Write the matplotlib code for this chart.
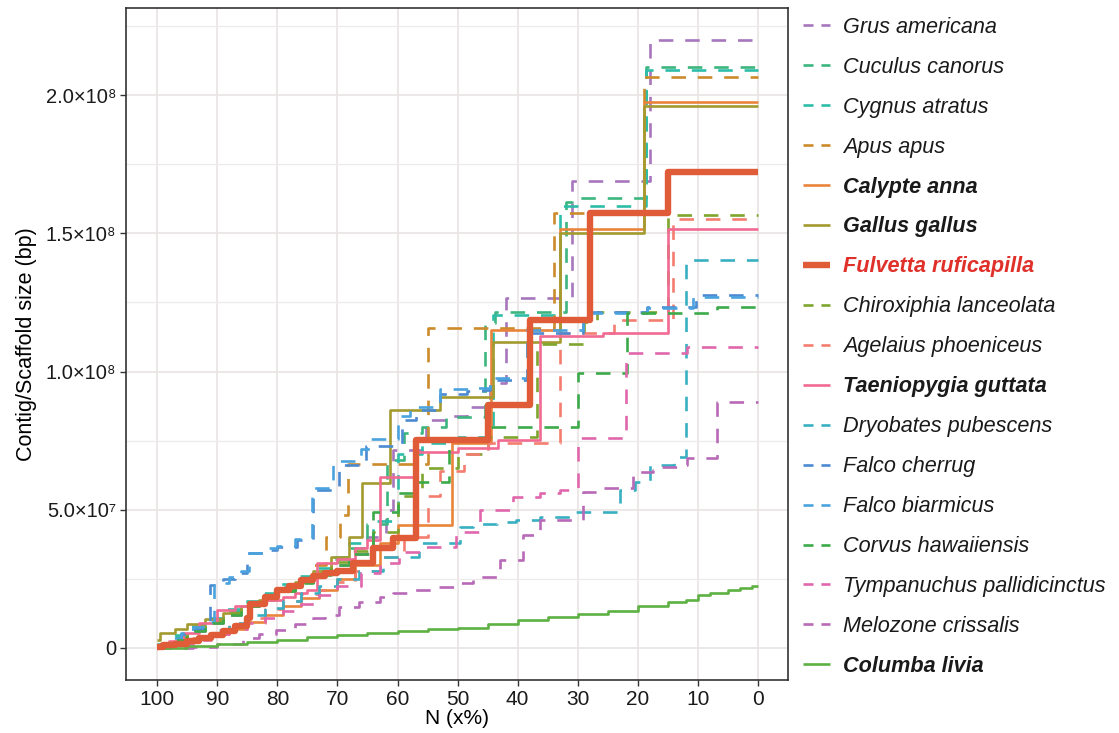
import matplotlib
matplotlib.use("Agg")
import matplotlib.pyplot as plt
from matplotlib.lines import Line2D
import numpy as np

plt.rcParams['font.family'] = ['Liberation Sans', 'DejaVu Sans']

# ---------------- data (N in %, size in Mb) ----------------
species = ["Grus americana", "Cuculus canorus", "Cygnus atratus", "Apus apus",
           "Calypte anna", "Gallus gallus", "Fulvetta ruficapilla",
           "Chiroxiphia lanceolata", "Agelaius phoeniceus", "Taeniopygia guttata",
           "Dryobates pubescens", "Falco cherrug", "Falco biarmicus",
           "Corvus hawaiiensis", "Tympanuchus pallidicinctus", "Melozone crissalis",
           "Columba livia"]

grus_n = [100, 98, 95, 92, 89, 86, 83, 80, 77, 74, 71, 68, 65, 62, 60.7, 55.2, 51.8, 48.4, 44.6, 42, 31, 18, 0]
grus_v = [0.5, 3, 6, 9, 12, 15, 18, 21, 24, 27, 30, 34, 40, 50, 71.6, 82.5, 84, 87, 96, 126.6, 169, 220, 220]

cuculus_n = [100, 98, 95, 92, 89, 86, 83, 80, 77, 74, 71, 68, 65, 61.7, 59, 56, 52, 45.5, 43.8, 32, 31, 18.7, 0]
cuculus_v = [1, 4, 7.5, 10.5, 13.5, 16.5, 19.5, 22, 25, 28, 32, 36, 45, 68, 77.7, 80, 83.5, 117.5, 121.5, 161.4, 162.7, 210, 210]

cygnus_n = [100, 98, 95, 92, 89, 86, 83, 80, 77, 74, 71, 68, 64, 60, 56, 50, 44.1, 33, 18.7, 0]
cygnus_v = [1.5, 4.5, 8, 11, 14, 17, 20, 23, 26, 29, 33, 38, 46, 70, 74, 76.3, 120.5, 160, 209, 209]

apus_n = [100, 98, 95, 92, 89, 86, 83, 80, 77, 74, 71.9, 69.5, 68.2, 55, 34, 19, 0]
apus_v = [1, 3.5, 6.5, 9.5, 12.5, 15.5, 18.5, 21.5, 25, 30, 40, 48, 66.5, 115.7, 157.3, 206.5, 206.5]

calypte_n = [100, 97, 94, 91, 88, 85, 82, 79, 76, 73, 70, 67, 63, 60, 51, 44.5, 33, 19, 0]
calypte_v = [0.5, 2, 3.5, 5, 7, 9.5, 12, 15, 18, 21, 25, 30, 38, 44.5, 74.1, 115, 151.5, 197.6, 197.6]

gallus_n = [100, 99.5, 97, 95, 92, 89, 86, 83, 80, 77, 74, 71, 68, 65.9, 61.2, 53, 44.1, 33, 19, 0]
gallus_v = [3, 5.5, 7, 8.5, 10.5, 12.5, 15, 17.5, 20.5, 24, 28, 33, 40, 59.7, 86, 90.8, 110.7, 150, 196, 196]

fulvetta_n = [100, 99, 97, 95, 93, 91, 89, 87, 85, 84.5, 82, 80, 78, 76, 74, 72, 70, 67.4, 64, 60.7, 56.9, 45, 37.9, 28, 15, 0]
fulvetta_v = [0.5, 1, 1.5, 2.5, 3.5, 4.5, 6, 8, 11, 16, 18.5, 21, 22.5, 24.5, 26, 27, 28, 30.7, 36, 39.8, 75.2, 87.9, 118.6, 157.3, 172, 172]

chirox_n = [100, 98, 95, 92, 89, 86, 83, 80, 77, 74, 71, 68, 64, 60, 56, 50, 45, 36.8, 29, 26.8, 15, 0]
chirox_v = [1, 3.5, 6.5, 9.5, 12.5, 15.5, 18, 21, 24, 27, 31, 35, 42, 55, 65, 70, 76.3, 110, 118, 121.5, 156.6, 156.6]

agelaius_n = [100, 97, 94, 91, 88, 85, 82, 79, 76, 73, 70, 67, 63, 59, 55, 53, 49, 45, 33, 24, 14.2, 0]
agelaius_v = [0.5, 2, 4, 6, 8.5, 11, 14, 17, 19.5, 21, 24, 28, 33, 40, 55, 64, 70, 74, 114, 118.5, 155.3, 155.3]

taenio_n = [100, 98, 95.7, 93, 90, 87, 84.5, 82, 79, 77, 75, 73.4, 70, 67, 65, 63, 57, 50, 43.3, 36.3, 25.8, 15, 0]
taenio_v = [0.5, 2.5, 5.4, 9, 13.7, 15, 16.3, 17.5, 18.5, 20, 21, 30.7, 32, 36, 39, 61.8, 71, 72.3, 75.2, 113, 114, 151.5, 151.5]

dryob_n = [100, 97, 94, 91, 88, 85, 82, 79, 76, 73, 70, 66.4, 62.4, 56.4, 49.6, 47.4, 43.5, 40.2, 36.3, 31.3, 23, 20.5, 18, 14, 11.9, 0]
dryob_v = [0.5, 2, 4, 6.5, 9, 12, 14.5, 17, 20, 22.5, 25, 28, 33, 38, 43.9, 45, 45.7, 46.3, 47.5, 49.3, 57.1, 60, 66.2, 69.2, 140.3, 140.3]

cherrug_n = [100, 98, 96, 94, 92, 91.2, 89, 87, 85, 82, 80, 76.7, 74, 69.7, 65.2, 59.2, 57, 52.9, 48.5, 45.7, 44.6, 38.5, 29.1, 18.5, 10.3, 0]
cherrug_v = [0.5, 3, 5, 7, 9, 22.8, 25, 27, 34.3, 35.4, 36.5, 39, 57, 66, 73, 82.5, 86, 92, 93, 93.3, 97, 114, 121.5, 123.3, 127.5, 127.5]

biarm_n = [100, 98, 96, 94, 92, 90.5, 88, 86, 84.8, 82, 80, 77, 74.3, 70.7, 66, 64.5, 60, 58, 53, 48, 44.6, 38.5, 29.1, 18.5, 10.8, 0]
biarm_v = [0.5, 3.5, 5.5, 7.5, 9.5, 23.5, 25.5, 28, 34.5, 36, 37, 39.5, 58, 67.5, 72, 75.5, 84, 87, 93.5, 94, 97.5, 115, 121, 122.8, 127, 127]

corvus_n = [100, 98, 95, 92, 89, 86, 83, 80, 77, 74, 71, 68, 64, 60, 57.4, 51.4, 45, 30, 21.8, 6.8, 0]
corvus_v = [0.5, 3, 6, 9, 12, 15, 18, 20.5, 23.5, 26.5, 30, 34, 49, 56, 60, 76, 80, 99.5, 121, 123.5, 123.5]

tympan_n = [100, 97, 94, 91, 88, 85, 82, 79, 76, 73, 70, 66, 63, 59.7, 55.2, 50.2, 46.3, 40.8, 36.3, 33, 30, 22, 11.8, 0]
tympan_v = [0.3, 1.5, 3, 5, 7, 9, 11, 13.5, 16, 19, 22.5, 27, 30.7, 34.7, 36.5, 42, 50, 54.6, 56, 57, 76, 106.7, 108.9, 108.9]

melozone_n = [100, 94, 90, 85.7, 83, 80.2, 77, 74, 72, 69.7, 66.4, 63, 60.7, 58, 54, 49.6, 47.4, 43, 39.1, 36.3, 29.1, 25.8, 20.8, 17.4, 16.3, 13, 11.8, 6.8, 0]
melozone_v = [0, 0.4, 1.5, 3.6, 5, 6.5, 8.5, 10.8, 12, 14.8, 16.6, 18.5, 20, 21, 22, 23.5, 25.7, 31.8, 40.8, 46.3, 56.4, 57.8, 63.7, 64.4, 65.5, 66, 68.7, 89, 89]

columba_n = [100, 95, 90, 85, 80, 75, 70, 65, 60, 55, 50, 45, 40, 35, 30, 25, 20, 15, 12, 10, 8, 5, 3, 1, 0]
columba_v = [0, 0.7, 1.5, 2.2, 3, 3.9, 4.7, 5.4, 6, 6.7, 7.3, 8.5, 10, 11.2, 12.4, 13.5, 15, 16.5, 17.5, 19, 20, 21, 21.8, 22.4, 22.4]

series_n = [grus_n, cuculus_n, cygnus_n, apus_n, calypte_n, gallus_n, fulvetta_n, chirox_n,
            agelaius_n, taenio_n, dryob_n, cherrug_n, biarm_n, corvus_n, tympan_n, melozone_n, columba_n]
series_v = [grus_v, cuculus_v, cygnus_v, apus_v, calypte_v, gallus_v, fulvetta_v, chirox_v,
            agelaius_v, taenio_v, dryob_v, cherrug_v, biarm_v, corvus_v, tympan_v, melozone_v, columba_v]

x_ticks = [100, 90, 80, 70, 60, 50, 40, 30, 20, 10, 0]
y_ticks = [0, 5e7, 1e8, 1.5e8, 2e8]
y_ticklabels = ["0", "5.0×10⁷", "1.0×10⁸", "1.5×10⁸", "2.0×10⁸"]

# ---------------- styles ----------------
colors = ['#A776BC', '#3DB57F', '#2DBDA8', '#CD8B2C', '#E8843C', '#A39A30', '#E05B38',
          '#7EA62E', '#F47D70', '#F16A92', '#39AFC2', '#4C8BD1', '#4AA3DE', '#3DAA4A',
          '#E167AD', '#B86AB8', '#5DB143']
solid = {"Calypte anna", "Gallus gallus", "Fulvetta ruficapilla", "Taeniopygia guttata", "Columba livia"}
dash = (0, (5.5, 4.5))

fig = plt.figure(figsize=(11.19, 7.33), dpi=100)
ax = fig.add_axes([126/1119, 1 - 680/733, (788-126)/1119, (680-8)/733])

order = [i for i in range(len(species)) if species[i] != "Fulvetta ruficapilla"] + [species.index("Fulvetta ruficapilla")]
for i in order:
    name = species[i]
    n = np.array(series_n[i], dtype=float)
    v = np.array(series_v[i], dtype=float) * 1e6
    assert len(n) == len(v), name
    lw = 4.6 if name == "Fulvetta ruficapilla" else 1.9
    ls = '-' if name in solid else dash
    ax.step(n, v, where='post', color=colors[i], lw=lw, linestyle=ls,
            solid_capstyle='butt', dash_capstyle='butt', zorder=3)

handles = []
for i, name in enumerate(species):
    lw = 4.6 if name == "Fulvetta ruficapilla" else 1.9
    ls = '-' if name in solid else (0, (3.8, 3.0))
    handles.append(Line2D([], [], color=colors[i], lw=lw, linestyle=ls,
                          solid_capstyle='butt', dash_capstyle='butt'))

ax.set_xlim(105.2, -5)
ax.set_ylim(-1.16e7, 2.315e8)
ax.set_xticks(x_ticks)
ax.set_xticklabels([str(t) for t in x_ticks])
ax.set_yticks(y_ticks)
ax.set_yticklabels(y_ticklabels)
ax.set_yticks(np.arange(2.5e7, 2.3e8, 5e7), minor=True)

ax.grid(True, which='major', color='#EAE4E4', lw=1.2, zorder=0)
ax.grid(True, which='minor', axis='y', color='#EEEAEA', lw=0.9, zorder=0)
ax.set_axisbelow(True)
for s in ax.spines.values():
    s.set_color('#333333')
    s.set_linewidth(1.2)
ax.tick_params(axis='x', which='major', labelsize=15, colors='#333333', length=4, width=1,
               labelcolor='#1a1a1a', pad=3)
ax.tick_params(axis='y', which='major', labelsize=14.5, colors='#333333', length=4, width=1,
               labelcolor='#1a1a1a', pad=3)
ax.tick_params(axis='y', which='minor', length=0)

ax.set_xlabel("N (x%)", fontsize=15, labelpad=0)
ax.set_ylabel("Contig/Scaffold size (bp)", fontsize=15.5, labelpad=6)

leg = ax.legend(handles, species, loc='upper left', bbox_to_anchor=(1.009, 1.0),
                frameon=False, fontsize=15.6, handlelength=1.25, handletextpad=0.6,
                labelspacing=0.875, borderaxespad=0.0)
for t, name in zip(leg.get_texts(), species):
    t.set_fontstyle('italic')
    if name in solid:
        t.set_fontweight('bold')
    if name == "Fulvetta ruficapilla":
        t.set_color('#E0302A')
    else:
        t.set_color('#1a1a1a')

fig.savefig("out.png", dpi=100)
